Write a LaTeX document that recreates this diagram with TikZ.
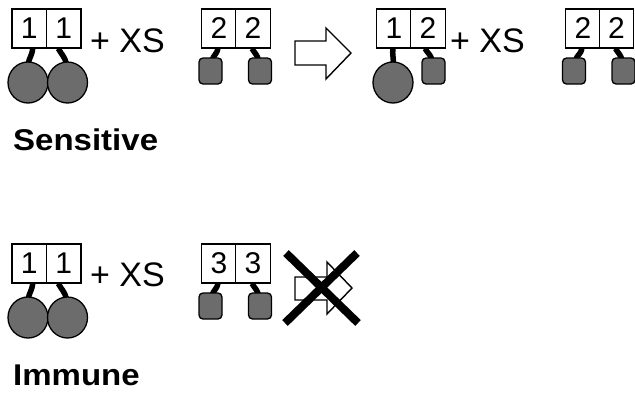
\documentclass[tikz,border=0pt]{standalone}
\usepackage{fontspec}
\setmainfont{Liberation Sans}
\usetikzlibrary{shapes.geometric,backgrounds}
\definecolor{beadgray}{RGB}{108,108,108}
\tikzset{
  cell/.style={draw, line width=1.1pt, fill=white, minimum width=34.5pt, minimum height=39pt,
               inner sep=0pt, font=\fontsize{30}{32}\selectfont},
  bead/.style={ellipse, draw, line width=1.3pt, fill=beadgray, minimum width=40pt,
               minimum height=41pt, inner sep=0pt},
  block/.style={rectangle, rounded corners=4pt, draw, line width=1.3pt, fill=beadgray,
                minimum width=23pt, minimum height=26pt, inner sep=0pt},
  link/.style={line width=5.5pt},
  plus/.style={anchor=base west, inner sep=0pt, font=\fontsize{34}{36}\selectfont},
  title/.style={anchor=base west, inner sep=0pt, font=\bfseries\fontsize{30}{34}\selectfont},
  hollow/.style={draw, line width=1.4pt, fill=white, line join=miter},
  cross/.style={line width=8pt}
}
\newcommand{\widetitle}[1]{\scalebox{1.1}[1]{#1}}
\begin{document}
\begin{tikzpicture}[x=1pt, y=-1pt]
\useasboundingbox (0,0) rectangle (635,392);

% ---------- sensitive row ----------
\node[cell] (a1) at (29.25,28.5) {1};
\node[cell] (a2) at (63.75,28.5) {1};
\node[bead] (ua1) at (28,82.5) {};
\node[bead] (ua2) at (67.5,82.5) {};
\node[plus] (pa) at (90,52) {+ XS};

\node[cell] (b1) at (219,28.5) {2};
\node[cell] (b2) at (253,28.5) {2};
\node[block] (ub1) at (210.5,71) {};
\node[block] (ub2) at (260,71) {};

\node[cell] (c1) at (394,28.5) {1};
\node[cell] (c2) at (428,28.5) {2};
\node[bead] (uc1) at (393,82.5) {};
\node[block] (uc2) at (433.5,71) {};
\node[plus] (pc) at (450,52) {+ XS};

\node[cell] (d1) at (583,28.5) {2};
\node[cell] (d2) at (616.5,28.5) {2};
\node[block] (ud1) at (574,71) {};
\node[block] (ud2) at (623.5,71) {};

% hollow arrow
\draw[hollow] (295,41) -- (326,41) -- (326,28) -- (351,53) -- (326,79) -- (326,65) -- (295,65) -- cycle;

\node[title] (sens) at (13,150) {\widetitle{Sensitive}};

% ---------- immune row ----------
\node[cell] (e1) at (29.25,263.5) {1};
\node[cell] (e2) at (63.75,263.5) {1};
\node[bead] (ue1) at (28,317.5) {};
\node[bead] (ue2) at (67.5,317.5) {};
\node[plus] (pe) at (90,286) {+ XS};

\node[cell] (f1) at (219,263.5) {3};
\node[cell] (f2) at (253,263.5) {3};
\node[block] (uf1) at (210.5,306) {};
\node[block] (uf2) at (260,306) {};

% blocked arrow
\draw[hollow] (295,277) -- (327,277) -- (327,262) -- (352,288) -- (327,314) -- (327,300) -- (295,300) -- cycle;
\draw[cross] (286,253) -- (358,323);
\draw[cross] (357,253) -- (285,323);

\node[title] (imm) at (13,385) {\widetitle{Immune}};

% ---------- stalks joining cells to their units ----------
\begin{scope}[on background layer]
  \fill[white] (0,0) rectangle (635,392);
  \draw[link] ([xshift=3.5pt]a1.south) to[out=-95,in=80] ([xshift=0pt,yshift=-3pt]ua1.north);
  \draw[link] ([xshift=-5.5pt]a2.south) to[out=-60,in=100] ([xshift=-1pt,yshift=-3pt]ua2.north);
  \draw[link] ([xshift=-1pt]b1.south) to[out=-100,in=75] ([xshift=1.5pt,yshift=-3pt]ub1.north);
  \draw[link] ([xshift=-1pt]b2.south) to[out=-60,in=100] ([xshift=-1.5pt,yshift=-3pt]ub2.north);
  \draw[link] ([xshift=-1pt]c1.south) to[out=-100,in=80] ([xshift=0pt,yshift=-3pt]uc1.north);
  \draw[link] ([xshift=-3pt]c2.south) to[out=-60,in=100] ([xshift=-1.5pt,yshift=-3pt]uc2.north);
  \draw[link] ([xshift=-1pt]d1.south) to[out=-100,in=75] ([xshift=1.5pt,yshift=-3pt]ud1.north);
  \draw[link] ([xshift=-1pt]d2.south) to[out=-60,in=100] ([xshift=-1.5pt,yshift=-3pt]ud2.north);
  \draw[link] ([xshift=3.5pt]e1.south) to[out=-95,in=80] ([xshift=0pt,yshift=-3pt]ue1.north);
  \draw[link] ([xshift=-5.5pt]e2.south) to[out=-60,in=100] ([xshift=-1pt,yshift=-3pt]ue2.north);
  \draw[link] ([xshift=-1pt]f1.south) to[out=-100,in=75] ([xshift=1.5pt,yshift=-3pt]uf1.north);
  \draw[link] ([xshift=-1pt]f2.south) to[out=-60,in=100] ([xshift=-1.5pt,yshift=-3pt]uf2.north);
\end{scope}
\end{tikzpicture}
\end{document}
